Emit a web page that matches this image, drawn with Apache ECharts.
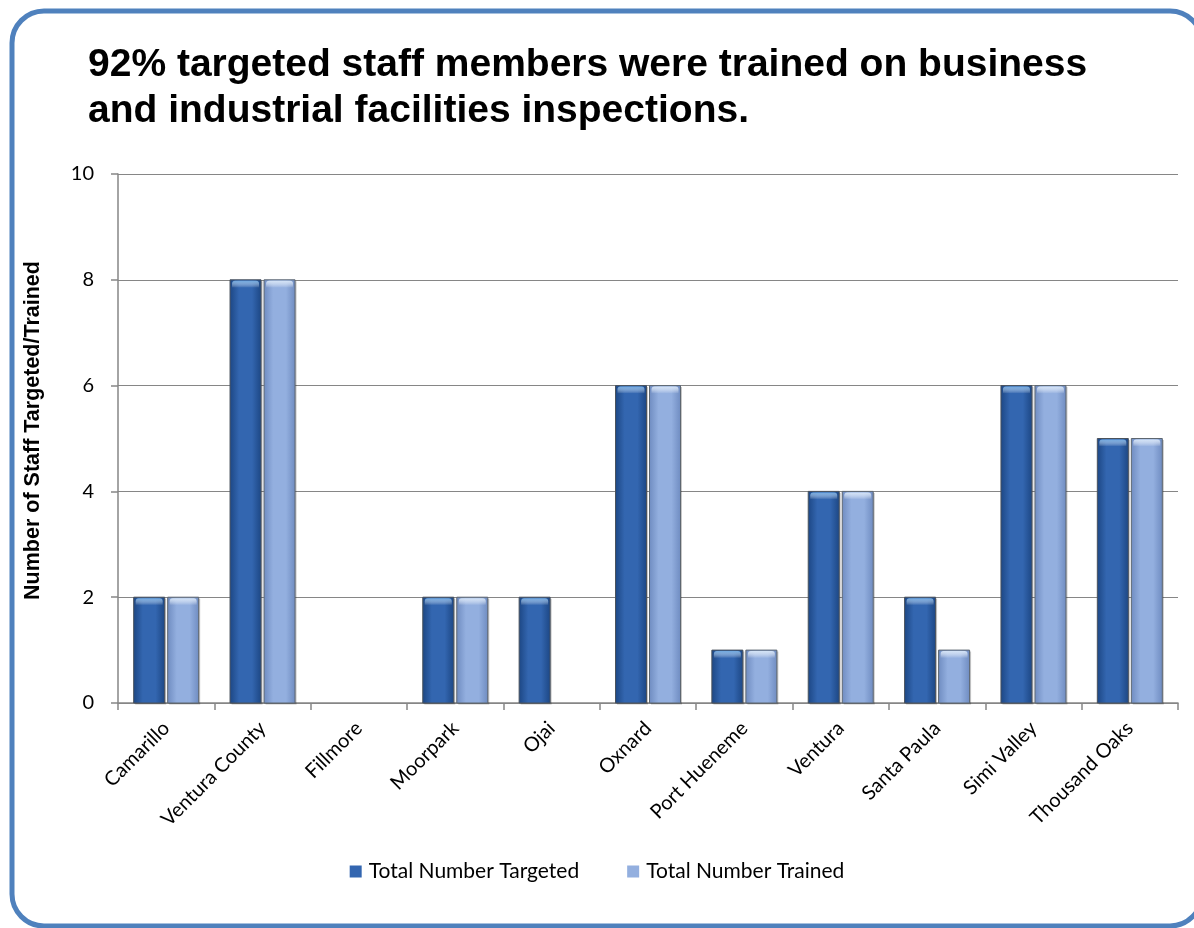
<!DOCTYPE html>
<html>
<head>
<meta charset="utf-8">
<script src="https://cdn.jsdelivr.net/npm/echarts@6/dist/echarts.min.js"></script>
<style>
  html, body { margin: 0; padding: 0; background: #ffffff; }
  #chart { width: 1194px; height: 928px; }
</style>
</head>
<body>
<div id="chart"></div>
<script>
// Staff targeted vs. trained per jurisdiction
const categories = ['Camarillo', 'Ventura County', 'Fillmore', 'Moorpark', 'Ojai', 'Oxnard',
  'Port Hueneme', 'Ventura', 'Santa Paula', 'Simi Valley', 'Thousand Oaks'];
const targeted = [2, 8, 0, 2, 2, 6, 1, 4, 2, 6, 5];
const trained = [2, 8, 0, 2, 0, 6, 1, 4, 1, 6, 5];
const yTicks = { min: 0, max: 10, interval: 2 };

const chart = echarts.init(document.getElementById('chart'), null, { renderer: 'canvas' });

const BAR_W = 31;
const BAR_GAP = 3;

// Bevelled bar: side-shaded body plus a light cap on top
const palettes = [
  { edge: '#1c4683', mid: '#3366b0', cap: '#6fa8e0', stroke: '#4a525c' },
  { edge: '#6e8bc0', mid: '#93afdf', cap: '#d2e2f6', stroke: '#5d6670' }
];

function makeRender(seriesIdx) {
  const p = palettes[seriesIdx];
  return function (params, api) {
    const idx = api.value(0);
    const val = api.value(1);
    if (!val) return null;
    const base = api.coord([idx, 0]);
    const top = api.coord([idx, val]);
    const dir = seriesIdx === 0 ? -1 : 1;
    const cx = base[0] + dir * (BAR_W + BAR_GAP) / 2;
    const x = cx - BAR_W / 2;
    const h = base[1] - top[1];
    return {
      type: 'group',
      children: [
        {
          type: 'rect',
          shape: { x: x + 1.5, y: top[1] + 1.5, width: BAR_W, height: h },
          style: { fill: 'rgba(0,0,0,0.22)' }
        },
        {
          type: 'rect',
          shape: { x: x, y: top[1], width: BAR_W, height: h },
          style: {
            fill: new echarts.graphic.LinearGradient(0, 0, 1, 0, [
              { offset: 0, color: p.edge },
              { offset: 0.3, color: p.mid },
              { offset: 0.7, color: p.mid },
              { offset: 1, color: p.edge }
            ]),
            stroke: p.stroke,
            lineWidth: 1
          }
        },
        {
          type: 'rect',
          shape: { x: x + 2, y: top[1] + 1, width: BAR_W - 4, height: 7, r: [3, 3, 0, 0] },
          style: {
            fill: new echarts.graphic.LinearGradient(0, 0, 0, 1, [
              { offset: 0, color: p.cap },
              { offset: 1, color: 'rgba(255,255,255,0)' }
            ])
          }
        }
      ]
    };
  };
}

const tickFont = 'Lato, "Open Sans", sans-serif';

chart.setOption({
  animation: false,
  backgroundColor: '#ffffff',
  title: {
    text: '92% targeted staff members were trained on business\nand industrial facilities inspections.',
    left: 83,
    top: 37,
    textStyle: {
      fontFamily: '"Liberation Sans", Arial, sans-serif',
      fontWeight: 'bold',
      fontSize: 39,
      lineHeight: 46,
      color: '#000000'
    }
  },
  graphic: [{
    type: 'rect',
    shape: { x: 12, y: 11, width: 1190, height: 915, r: 32 },
    style: { fill: 'none', stroke: '#4f81bd', lineWidth: 5 },
    z: 100
  }],
  grid: { left: 118, top: 174, right: 16, bottom: 225, containLabel: false },
  legend: {
    bottom: 41,
    left: 'center',
    itemWidth: 12,
    itemHeight: 12,
    itemGap: 48,
    icon: 'rect',
    textStyle: { fontFamily: tickFont, fontSize: 21, color: '#000000', padding: [0, 0, 0, 2] },
    data: ['Total Number Targeted', 'Total Number Trained']
  },
  xAxis: {
    type: 'category',
    data: categories,
    axisLine: { lineStyle: { color: '#868686', width: 1.5 } },
    axisTick: { show: true, alignWithLabel: false, length: 7, lineStyle: { color: '#868686', width: 1.5 } },
    axisLabel: {
      rotate: 45,
      interval: 0,
      margin: 22,
      fontFamily: tickFont,
      fontSize: 20,
      color: '#000000'
    }
  },
  yAxis: {
    type: 'value',
    min: yTicks.min,
    max: yTicks.max,
    interval: yTicks.interval,
    name: 'Number of Staff Targeted/Trained',
    nameLocation: 'middle',
    nameGap: 74,
    nameTextStyle: {
      fontFamily: '"Liberation Sans", Arial, sans-serif',
      fontWeight: 'bold',
      fontSize: 21.5,
      color: '#000000',
      padding: [0, 0, 0, 16]
    },
    axisLine: { show: true, lineStyle: { color: '#868686', width: 1.5 } },
    axisTick: { show: true, length: 7, lineStyle: { color: '#868686', width: 1.5 } },
    splitLine: { lineStyle: { color: '#868686', width: 1.2 } },
    axisLabel: { margin: 24, fontFamily: tickFont, fontSize: 20, color: '#000000' }
  },
  series: [
    {
      name: 'Total Number Targeted',
      type: 'custom',
      renderItem: makeRender(0),
      encode: { x: 0, y: 1 },
      itemStyle: { color: '#3366b0' },
      data: targeted.map((v, i) => [i, v])
    },
    {
      name: 'Total Number Trained',
      type: 'custom',
      renderItem: makeRender(1),
      encode: { x: 0, y: 1 },
      itemStyle: { color: '#93afdf' },
      data: trained.map((v, i) => [i, v])
    }
  ]
});
</script>
</body>
</html>
